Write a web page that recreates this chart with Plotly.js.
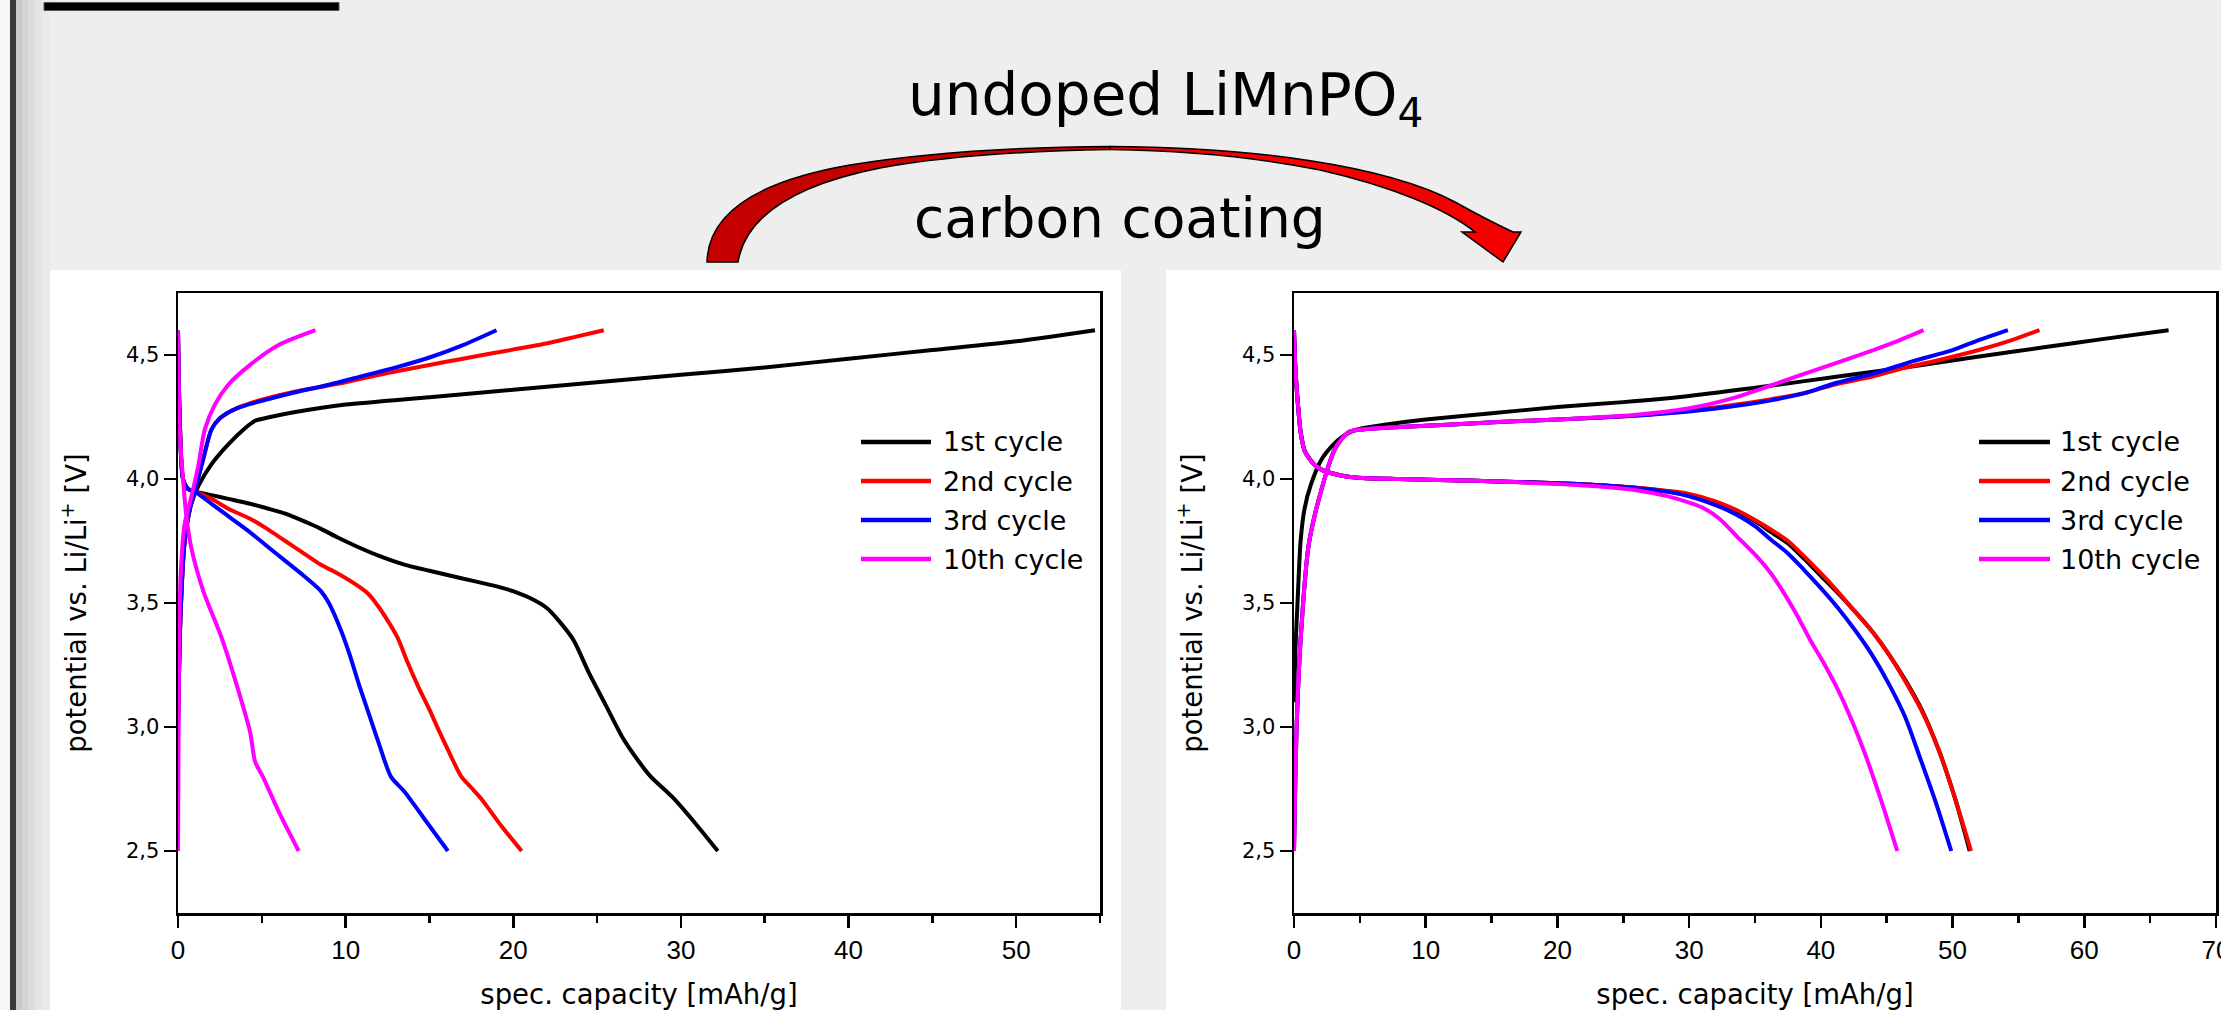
<!DOCTYPE html>
<html><head><meta charset="utf-8">
<script src="https://cdn.plot.ly/plotly-3.0.1.min.js"></script>
<style>html,body{margin:0;padding:0;background:#eeeeee;overflow:hidden}#chart{width:2221px;height:1010px}</style>
</head><body><div id="chart"></div><script>
// ---------- DATA ----------
const CYCLE_NAMES = ['1st cycle', '2nd cycle', '3rd cycle', '10th cycle'];
const CYCLE_COLORS = ['#000000', '#ff0000', '#0000ff', '#ff00ff'];

// undoped LiMnPO4 (left panel)
const U1_CH_X = [0,0.15,0.4,0.8,1.2,2,3,4,4.6,5.5,7,10,15,20,25,30,35,40,45,50,54.7];
const U1_CH_Y = [3.0,3.45,3.75,3.9,3.97,4.06,4.14,4.205,4.235,4.25,4.27,4.3,4.33,4.36,4.39,4.42,4.45,4.485,4.52,4.555,4.6];
const U1_DC_X = [0,0.1,0.3,0.6,1,2,3,4.3,5.4,6.4,7.5,8.5,9.5,10.6,12,13.5,15,16.9,18.5,19.4,20.3,21,22,22.7,23.6,24.5,25.5,26.5,27.5,28.2,29.6,31,32.2];
const U1_DC_Y = [4.6,4.25,4.0,3.96,3.95,3.935,3.92,3.9,3.88,3.86,3.83,3.80,3.765,3.73,3.69,3.655,3.63,3.60,3.575,3.56,3.54,3.52,3.48,3.43,3.35,3.22,3.09,2.96,2.86,2.8,2.71,2.6,2.5];

const U2_CH_X = [0,0.15,0.4,0.7,1,1.5,2,2.5,3.5,5,6.5,8,10,12.7,15,17,19,21.5,23.5,25.4];
const U2_CH_Y = [3.0,3.45,3.75,3.88,3.95,4.08,4.2,4.245,4.285,4.32,4.345,4.365,4.39,4.43,4.46,4.485,4.51,4.54,4.57,4.6];
const U2_DC_X = [0,0.1,0.3,0.6,1,2,3,4.3,5.3,6.4,7.5,8.5,9.5,10.6,11.3,11.8,12.5,13.1,13.7,14.35,15,15.6,16.3,16.9,17.5,18.1,19.3,20.5];
const U2_DC_Y = [4.6,4.25,4.0,3.96,3.95,3.92,3.88,3.84,3.80,3.75,3.70,3.655,3.62,3.575,3.54,3.5,3.43,3.36,3.26,3.16,3.07,2.98,2.88,2.80,2.755,2.71,2.6,2.5];

const U3_CH_X = [0,0.15,0.4,0.7,1,1.5,2,2.5,3.5,5,7,9,11,13,15,17,19];
const U3_CH_Y = [3.0,3.45,3.75,3.88,3.95,4.08,4.2,4.245,4.285,4.315,4.35,4.38,4.415,4.45,4.49,4.54,4.6];
const U3_DC_X = [0,0.1,0.3,0.6,1,2,3,4.3,5.3,6.4,7.5,8.5,9.0,9.6,10.2,10.8,11.4,12,12.7,13.5,14.8,16.1];
const U3_DC_Y = [4.6,4.25,4.0,3.96,3.95,3.90,3.85,3.785,3.73,3.67,3.61,3.55,3.5,3.41,3.3,3.17,3.05,2.93,2.80,2.74,2.62,2.5];

const U10_CH_X = [0,0.05,0.15,0.4,0.8,1.2,1.6,2.2,3,4.3,6,8.2];
const U10_CH_Y = [2.5,3.2,3.6,3.82,3.93,4.05,4.2,4.3,4.38,4.46,4.54,4.6];
const U10_DC_X = [0,0.1,0.3,0.5,0.8,1.5,2.6,3.5,4.3,4.6,5.06,6,7.2];
const U10_DC_Y = [4.6,4.2,4.0,3.85,3.72,3.55,3.36,3.17,2.98,2.86,2.8,2.66,2.5];

// carbon coated (right panel)
const C1_CH_X = [0,0.1,0.3,0.5,0.8,1.3,2.1,3,3.66,4.3,5.2,7,10,15,20,25,30,36,41.3,46.4,51.5,56.8,61.5,66.4];
const C1_CH_Y = [3.1,3.3,3.54,3.75,3.88,3.98,4.08,4.14,4.17,4.19,4.205,4.22,4.24,4.265,4.29,4.31,4.335,4.375,4.413,4.45,4.49,4.53,4.565,4.6];
const C1_DC_X = [0,0.1,0.3,0.5,0.8,1.2,1.6,2.2,3.1,4,5.2,8,12,15.5,20,23.2,26,28.4,30,32,33.6,35,36.1,37.5,38.7,40,41.3,42.6,43.9,45.2,46.4,47.7,49,50.2,51.3];
const C1_DC_Y = [4.6,4.45,4.3,4.19,4.115,4.08,4.055,4.035,4.02,4.01,4.004,4.0,3.995,3.99,3.983,3.975,3.965,3.95,3.935,3.905,3.87,3.83,3.79,3.74,3.68,3.61,3.54,3.465,3.385,3.29,3.19,3.065,2.9,2.71,2.5];

const C2_CH_X = [0,0.2,0.5,1.1,1.6,2.1,2.6,3.1,3.6,4.2,5.2,8,12,15.5,20,25.8,30,33.6,36,38.7,41,43.9,46.5,49,52,54.5,56.6];
const C2_CH_Y = [2.5,3.0,3.35,3.73,3.86,3.96,4.05,4.12,4.16,4.19,4.2,4.21,4.22,4.23,4.24,4.255,4.275,4.3,4.32,4.346,4.38,4.413,4.45,4.48,4.52,4.56,4.6];
const C2_DC_X = [0,0.1,0.3,0.5,0.8,1.2,1.6,2.2,3.1,4,5.2,8,12,15.5,20,23.2,26,28.4,30,32,33.6,35,36.1,37.5,38.7,40,41.3,42.6,43.9,45.2,46.4,47.7,49,50.2,51.4];
const C2_DC_Y = [4.6,4.45,4.3,4.19,4.115,4.08,4.055,4.035,4.02,4.01,4.004,4.0,3.995,3.99,3.983,3.975,3.965,3.952,3.94,3.91,3.875,3.835,3.80,3.75,3.69,3.62,3.545,3.465,3.385,3.29,3.185,3.06,2.9,2.71,2.5];

const C3_CH_X = [0,0.2,0.5,1.1,1.6,2.1,2.6,3.1,3.6,4.2,5.2,8,12,15.5,20,25.8,30,33.6,36,38.7,41,44,47,50,52,54.2];
const C3_CH_Y = [2.5,3.0,3.35,3.73,3.86,3.96,4.05,4.12,4.16,4.19,4.2,4.21,4.22,4.23,4.24,4.255,4.272,4.295,4.315,4.345,4.385,4.425,4.475,4.52,4.56,4.6];
const C3_DC_X = [0,0.1,0.3,0.5,0.8,1.2,1.6,2.2,3.1,4,5.2,8,12,15.5,20,23.2,26,28.4,30,32,33.6,35,36.1,37.5,38.7,40,41.3,42.6,43.9,45.2,46.4,47.5,48.7,49.9];
const C3_DC_Y = [4.6,4.45,4.3,4.19,4.115,4.08,4.055,4.035,4.02,4.01,4.004,4.0,3.995,3.99,3.983,3.975,3.963,3.948,3.93,3.895,3.856,3.81,3.76,3.70,3.635,3.56,3.48,3.39,3.29,3.17,3.04,2.88,2.70,2.5];

const C10_CH_X = [0,0.2,0.5,1.1,1.6,2.1,2.6,3.1,3.6,4.2,5.2,8,12,15.5,20,25.8,30,33.6,36.1,38.5,41.3,44,46,47.8];
const C10_CH_Y = [2.5,3.0,3.35,3.73,3.86,3.96,4.05,4.12,4.16,4.19,4.2,4.21,4.22,4.23,4.24,4.258,4.285,4.33,4.375,4.42,4.47,4.52,4.56,4.6];
const C10_DC_X = [0,0.1,0.3,0.5,0.8,1.2,1.6,2.2,3.1,4,5.2,8,12,15.5,20,23.2,26,28.4,30,31,32.3,33.6,35.1,36.2,37.2,38.2,39.2,40.3,41.3,42.4,43.4,44.6,45.8];
const C10_DC_Y = [4.6,4.45,4.3,4.19,4.115,4.08,4.055,4.035,4.02,4.01,4.004,4.0,3.995,3.99,3.98,3.97,3.955,3.93,3.905,3.885,3.84,3.77,3.69,3.62,3.54,3.45,3.35,3.25,3.15,3.02,2.885,2.7,2.5];

const Y_TICKS = [2.5, 3.0, 3.5, 4.0, 4.5];
const Y_TICK_TEXT = ['2,5', '3,0', '3,5', '4,0', '4,5'];
const X_TICKS_LEFT = [0, 10, 20, 30, 40, 50];
const X_TICKS_RIGHT = [0, 10, 20, 30, 40, 50, 60, 70];

// ---------- LAYOUT (pixels of the 2221x1010 page) ----------
const W = 2221, H = 1010;
const fx = p => p / W, fy = p => 1 - p / H;
const pt = (x, y) => fx(x).toFixed(5) + ',' + fy(y).toFixed(5);

const leftSets = [[U1_CH_X,U1_CH_Y,U1_DC_X,U1_DC_Y],[U2_CH_X,U2_CH_Y,U2_DC_X,U2_DC_Y],[U3_CH_X,U3_CH_Y,U3_DC_X,U3_DC_Y],[U10_CH_X,U10_CH_Y,U10_DC_X,U10_DC_Y]];
const rightSets = [[C1_CH_X,C1_CH_Y,C1_DC_X,C1_DC_Y],[C2_CH_X,C2_CH_Y,C2_DC_X,C2_DC_Y],[C3_CH_X,C3_CH_Y,C3_DC_X,C3_DC_Y],[C10_CH_X,C10_CH_Y,C10_DC_X,C10_DC_Y]];

const traces = [];
function addTraces(sets, xa, ya) {
  sets.forEach((s, i) => {
    traces.push({
      x: s[0].concat([null], s[2]), y: s[1].concat([null], s[3]),
      xaxis: xa, yaxis: ya, type: 'scatter', mode: 'lines', name: CYCLE_NAMES[i],
      line: {color: CYCLE_COLORS[i], width: 4, shape: 'spline', smoothing: 0.7}, connectgaps: false, showlegend: false, hoverinfo: 'skip'
    });
  });
}
addTraces(leftSets, 'x', 'y');
addTraces(rightSets, 'x2', 'y2');

const TICK_FONT_X = {family: 'Liberation Sans, Arial, sans-serif', size: 26, color: '#000'};
const TICK_FONT_Y = {family: 'DejaVu Sans, sans-serif', size: 21, color: '#000'};
const TITLE_FONT = {family: 'DejaVu Sans, sans-serif', size: 27.5, color: '#000'};

function xAxis(domain, range, ticks, anchor) {
  return {domain, range, anchor, tickmode: 'array', tickvals: ticks, ticktext: ticks.map(String),
    ticks: 'outside', ticklen: 12, tickwidth: 2.5, tickcolor: '#000', ticklabeloverflow: 'allow',
    minor: {ticks: 'outside', ticklen: 7, tickwidth: 2.5, tickcolor: '#000', dtick: 5, tick0: 5},
    showline: true, linewidth: 2.5, linecolor: '#000', mirror: true, showgrid: false, zeroline: false,
    tickfont: TICK_FONT_X,
    title: {text: 'spec. capacity [mAh/g]', font: TITLE_FONT, standoff: 26}};
}
function yAxis(domain, anchor) {
  return {domain, range: [2.25, 4.75], anchor, tickmode: 'array', tickvals: Y_TICKS, ticktext: Y_TICK_TEXT,
    ticks: 'outside', ticklen: 12, tickwidth: 2.5, tickcolor: '#000',
    showline: true, linewidth: 2.5, linecolor: '#000', mirror: true, showgrid: false, zeroline: false,
    tickfont: TICK_FONT_Y,
    title: {text: 'potential vs. Li/Li<sup>+</sup> [V]', font: TITLE_FONT, standoff: 32}};
}

const yDom = [fy(913), fy(293)];
const shapes = [];
const annotations = [];

// slide decorations
shapes.push({type: 'rect', xref: 'paper', yref: 'paper', x0: 0, x1: fx(10), y0: 0, y1: 1, fillcolor: '#f6f6f6', line: {width: 0}, layer: 'below'});
shapes.push({type: 'rect', xref: 'paper', yref: 'paper', x0: fx(10), x1: fx(16), y0: 0, y1: 1, fillcolor: '#3a3a3a', line: {width: 0}, layer: 'below'});
[['#c9c9c9',16,22],['#d4d4d4',22,28],['#dcdcdc',28,35],['#e4e4e4',35,42],['#eaeaea',42,50]].forEach(g => {
  shapes.push({type: 'rect', xref: 'paper', yref: 'paper', x0: fx(g[1]), x1: fx(g[2]), y0: 0, y1: 1, fillcolor: g[0], line: {width: 0}, layer: 'below'});
});
shapes.push({type: 'rect', xref: 'paper', yref: 'paper', x0: fx(44), x1: fx(339), y0: fy(10.5), y1: fy(2.5), fillcolor: '#000', line: {color: '#555', width: 1}, layer: 'below'});
// white panels behind the two graphs
shapes.push({type: 'rect', xref: 'paper', yref: 'paper', x0: fx(50), x1: fx(1121), y0: 0, y1: fy(270), fillcolor: '#ffffff', line: {width: 0}, layer: 'below'});
shapes.push({type: 'rect', xref: 'paper', yref: 'paper', x0: fx(1166), x1: 1, y0: 0, y1: fy(270), fillcolor: '#ffffff', line: {width: 0}, layer: 'below'});

// curved arrow (two halves: darker red on the left, bright red on the right)
const arrowLeft = 'M' + pt(707,262) + ' C' + pt(708,216) + ' ' + pt(752,182) + ' ' + pt(850,165) +
  ' C' + pt(930,152) + ' ' + pt(1020,147) + ' ' + pt(1110,146.5) + ' L' + pt(1110,149.5) +
  ' C' + pt(1020,151) + ' ' + pt(940,157) + ' ' + pt(880,168) +
  ' C' + pt(800,184) + ' ' + pt(746,214) + ' ' + pt(738,262) + ' Z';
const arrowRight = 'M' + pt(1110,146.5) + ' C' + pt(1250,147) + ' ' + pt(1385,165) + ' ' + pt(1455,202) +
  ' C' + pt(1480,216) + ' ' + pt(1500,226) + ' ' + pt(1513,232) + ' L' + pt(1521,232) + ' L' + pt(1503,262) +
  ' L' + pt(1462,232) + ' L' + pt(1475,232) + ' C' + pt(1445,208) + ' ' + pt(1390,186) + ' ' + pt(1320,170) +
  ' C' + pt(1250,156) + ' ' + pt(1180,150.5) + ' ' + pt(1110,149.5) + ' Z';
shapes.push({type: 'path', xref: 'paper', yref: 'paper', path: arrowLeft, fillcolor: '#c40000', line: {color: '#000', width: 1.5}, layer: 'above'});
shapes.push({type: 'path', xref: 'paper', yref: 'paper', path: arrowRight, fillcolor: '#f40000', line: {color: '#000', width: 1.5}, layer: 'above'});

annotations.push({xref: 'paper', yref: 'paper', x: fx(1165), y: fy(99), xanchor: 'center', yanchor: 'middle', showarrow: false,
  text: 'undoped LiMnPO<sub>4</sub>', font: {family: 'DejaVu Sans, sans-serif', size: 58, color: '#000'}});
annotations.push({xref: 'paper', yref: 'paper', x: fx(1120), y: fy(218), xanchor: 'center', yanchor: 'middle', showarrow: false,
  text: 'carbon coating', font: {family: 'DejaVu Sans, sans-serif', size: 55, color: '#000'}});

// legends (line sample + label), one per panel
const LEG_ROWS = [442, 481, 520, 559];
[[861, 931, 941], [1979, 2050, 2058]].forEach(L => {
  CYCLE_NAMES.forEach((n, i) => {
    shapes.push({type: 'line', xref: 'paper', yref: 'paper', x0: fx(L[0]), x1: fx(L[1]), y0: fy(LEG_ROWS[i]), y1: fy(LEG_ROWS[i]),
      line: {color: CYCLE_COLORS[i], width: 4.5}});
    annotations.push({xref: 'paper', yref: 'paper', x: fx(L[2]), y: fy(LEG_ROWS[i]), xanchor: 'left', yanchor: 'middle', showarrow: false,
      text: n, font: {family: 'DejaVu Sans, sans-serif', size: 27, color: '#000'}});
  });
});

const layout = {
  width: W, height: H, margin: {l: 0, r: 0, t: 0, b: 0, pad: 0},
  paper_bgcolor: '#eeeeee', plot_bgcolor: '#ffffff',
  font: {family: 'DejaVu Sans, sans-serif', color: '#000'},
  separators: ',.',
  showlegend: false,
  xaxis: xAxis([fx(178), fx(1100)], [0, 55], X_TICKS_LEFT, 'y'),
  yaxis: yAxis(yDom, 'x'),
  xaxis2: xAxis([fx(1294), fx(2216)], [0, 70], X_TICKS_RIGHT, 'y2'),
  yaxis2: yAxis(yDom, 'x2'),
  shapes, annotations
};
Plotly.newPlot('chart', traces, layout, {displayModeBar: false, staticPlot: true});
</script></body></html>
